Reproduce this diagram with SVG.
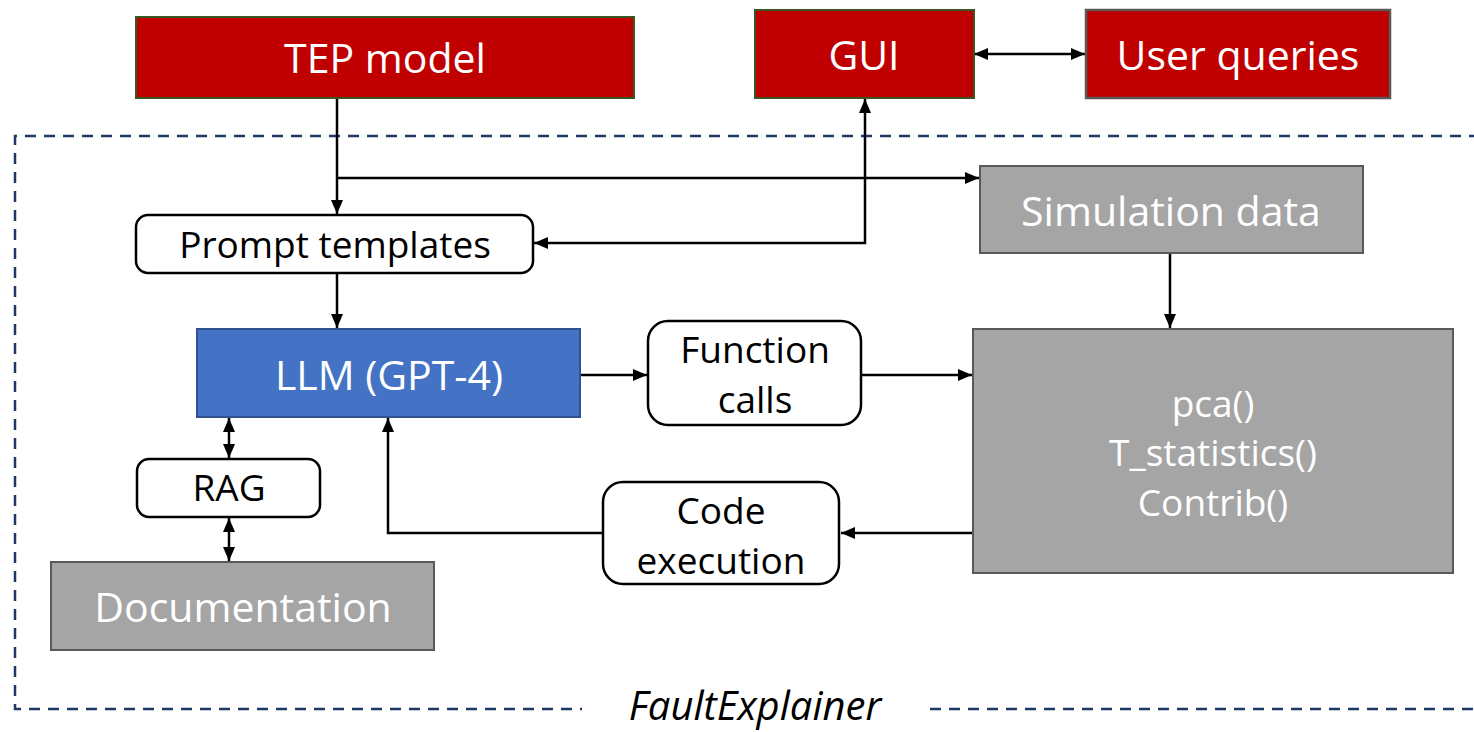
<svg xmlns="http://www.w3.org/2000/svg" width="1474" height="732" viewBox="0 0 1474 732">
  <style>
    .red { fill: #C00000; stroke: #385723; stroke-width: 2; }
    .red2 { fill: #C00000; stroke: #595959; stroke-width: 2.5; }
    .grey { fill: #A5A5A5; stroke: #595959; stroke-width: 2; }
    .blue { fill: #4472C4; stroke: #2F528F; stroke-width: 2; }
    .plain { fill: #FFFFFF; stroke: #000000; stroke-width: 2.5; }
    .tw { font-family: "Open Sans", "Liberation Sans", sans-serif; fill: #FFFFFF; text-anchor: middle; }
    .tb { font-family: "Open Sans", "Liberation Sans", sans-serif; fill: #000000; text-anchor: middle; }
    .big { font-size: 41px; }
    .mid { font-size: 37px; }
    .link { fill: none; stroke: #000000; stroke-width: 2.5; }
    .frame { fill: none; stroke: #1F3864; stroke-width: 2.5; stroke-dasharray: 11 8; }
  </style>
  <defs>
    <marker id="ah" viewBox="0 0 14 14" refX="14" refY="7" markerWidth="14" markerHeight="14" markerUnits="userSpaceOnUse" orient="auto-start-reverse">
      <path d="M0,1 L14,7 L0,13 Z" fill="#000000"/>
    </marker>
  </defs>

  <!-- system boundary -->
  <g id="boundary">
    <path class="frame" d="M1480,136 H15 V709 H582 M930,709 H1480"/>
    <text class="tb" x="755" y="720" font-size="40" font-style="italic">FaultExplainer</text>
  </g>

  <!-- connectors -->
  <g id="connectors">
    <path class="link" d="M337,98 V214" marker-end="url(#ah)"/>
    <path class="link" d="M337,178 H979" marker-end="url(#ah)"/>
    <path class="link" d="M974,54 H1085" marker-start="url(#ah)" marker-end="url(#ah)"/>
    <path class="link" d="M534,243 H865 V99" marker-start="url(#ah)" marker-end="url(#ah)"/>
    <path class="link" d="M337,273 V328" marker-end="url(#ah)"/>
    <path class="link" d="M580,375 H647" marker-end="url(#ah)"/>
    <path class="link" d="M861,375 H972" marker-end="url(#ah)"/>
    <path class="link" d="M1170,253 V328" marker-end="url(#ah)"/>
    <path class="link" d="M973,533 H841" marker-end="url(#ah)"/>
    <path class="link" d="M603,533 H388 V418" marker-end="url(#ah)"/>
    <path class="link" d="M229,418 V458" marker-start="url(#ah)" marker-end="url(#ah)"/>
    <path class="link" d="M229,518 V561" marker-start="url(#ah)" marker-end="url(#ah)"/>
  </g>

  <g id="tep-model">
    <rect class="red" x="136" y="17" width="498" height="81"/>
    <text class="tw big" x="385" y="73">TEP model</text>
  </g>

  <g id="gui">
    <rect class="red" x="755" y="10" width="219" height="88"/>
    <text class="tw big" x="864" y="70">GUI</text>
  </g>

  <g id="user-queries">
    <rect class="red2" x="1086" y="10" width="304" height="88"/>
    <text class="tw big" x="1238" y="70">User queries</text>
  </g>

  <g id="prompt-templates">
    <rect class="plain" x="136" y="215" width="397" height="58" rx="12"/>
    <text class="tb mid" x="335" y="258">Prompt templates</text>
  </g>

  <g id="simulation-data">
    <rect class="grey" x="980" y="166" width="383" height="87"/>
    <text class="tw big" x="1171" y="226">Simulation data</text>
  </g>

  <g id="llm">
    <rect class="blue" x="197" y="329" width="383" height="88"/>
    <text class="tw big" x="389" y="390">LLM (GPT-4)</text>
  </g>

  <g id="function-calls">
    <rect class="plain" x="648" y="321" width="213" height="104" rx="20"/>
    <text class="tb mid" x="755" y="363">Function</text>
    <text class="tb mid" x="755" y="413">calls</text>
  </g>

  <g id="functions">
    <rect class="grey" x="973" y="329" width="480" height="244"/>
    <text class="tw mid" x="1213" y="417">pca()</text>
    <text class="tw mid" x="1213" y="466">T_statistics()</text>
    <text class="tw mid" x="1213" y="516">Contrib()</text>
  </g>

  <g id="code-execution">
    <rect class="plain" x="603" y="482" width="236" height="102" rx="20"/>
    <text class="tb mid" x="721" y="524">Code</text>
    <text class="tb mid" x="721" y="574">execution</text>
  </g>

  <g id="rag">
    <rect class="plain" x="137" y="459" width="183" height="58" rx="12"/>
    <text class="tb mid" x="229" y="501">RAG</text>
  </g>

  <g id="documentation">
    <rect class="grey" x="51" y="562" width="383" height="88"/>
    <text class="tw big" x="243" y="622">Documentation</text>
  </g>
</svg>
